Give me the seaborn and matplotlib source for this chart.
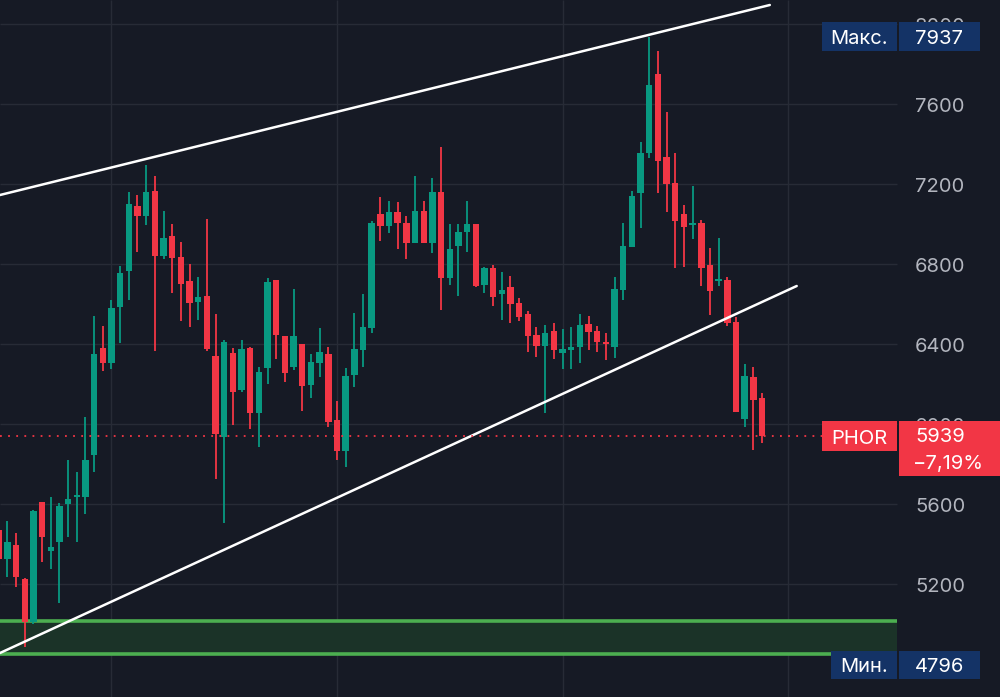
import numpy as np
import pandas as pd
import matplotlib
matplotlib.use("Agg")
import matplotlib.pyplot as plt
import matplotlib.transforms as mtransforms
from matplotlib.patches import Rectangle
import seaborn as sns

# ---------------- data ----------------
open_ = [5470, 5325, 5395, 5225, 5010, 5610, 5365, 5410, 5600, 5635,
         5635, 5845, 6380, 6305, 6585, 6765, 7090, 7040, 7165, 6840,
         6940, 6835, 6715, 6610, 6640, 6340, 5935, 6355, 6170, 6380,
         6055, 6280, 6720, 6440, 6285, 6400, 6195, 6305, 6350, 6020,
         5865, 6245, 6370, 6480, 7050, 6990, 7060, 7005, 6905, 7065,
         6905, 7160, 6730, 6890, 6960, 7000, 6695, 6780, 6650, 6685,
         6605, 6550, 6445, 6390, 6465, 6355, 6370, 6385, 6500, 6465,
         6410, 6385, 6670, 6885, 7155, 7355, 7750, 7335, 7205, 7050,
         6995, 7005, 6795, 6715, 6720, 6510, 6025, 6235, 6130]
close = [5325, 5410, 5235, 5010, 5565, 5435, 5385, 5590, 5625, 5645,
         5820, 6350, 6305, 6580, 6755, 7100, 7040, 7160, 6840, 6930,
         6830, 6700, 6605, 6635, 6375, 5950, 6410, 6160, 6375, 6055,
         6260, 6710, 6445, 6255, 6440, 6190, 6310, 6360, 6010, 5865,
         6240, 6375, 6485, 7005, 6990, 7060, 7005, 6905, 7065, 6905,
         7160, 6730, 6875, 6960, 7000, 6690, 6780, 6635, 6670, 6600,
         6535, 6440, 6390, 6455, 6370, 6375, 6385, 6495, 6460, 6410,
         6400, 6675, 6890, 7140, 7355, 7695, 7315, 7200, 7015, 6985,
         7005, 6780, 6665, 6725, 6505, 6060, 6240, 6120, 5939]
high = [5510, 5515, 5455, 5230, 5570, 5610, 5635, 5605, 5820, 5760,
        6035, 6540, 6490, 6620, 6790, 7160, 7145, 7295, 7240, 7065,
        7000, 6910, 6800, 6735, 7025, 6550, 6420, 6380, 6420, 6385,
        6285, 6730, 6720, 6440, 6675, 6400, 6350, 6480, 6385, 6115,
        6280, 6555, 6650, 7015, 7135, 7115, 7110, 7040, 7240, 7115,
        7230, 7385, 7000, 7000, 7115, 7000, 6785, 6795, 6760, 6740,
        6630, 6565, 6485, 6495, 6505, 6475, 6485, 6550, 6540, 6490,
        6455, 6735, 7005, 7165, 7410, 7937, 7865, 7560, 7355, 7095,
        7190, 7020, 6880, 6930, 6735, 6535, 6300, 6285, 6155]
low = [5295, 5235, 5185, 4885, 5000, 5310, 5275, 5105, 5435, 5410,
       5550, 5760, 6265, 6275, 6405, 6620, 6860, 6995, 6365, 6825,
       6655, 6515, 6485, 6520, 6365, 5725, 5505, 5995, 6160, 5975,
       5885, 6200, 6325, 6210, 6270, 6065, 6130, 6235, 5985, 5820,
       5785, 6185, 6285, 6455, 6915, 6955, 6875, 6825, 6905, 6905,
       6855, 6570, 6695, 6640, 6860, 6685, 6655, 6590, 6520, 6505,
       6515, 6360, 6335, 6055, 6325, 6275, 6275, 6305, 6370, 6360,
       6320, 6330, 6620, 6885, 6980, 7330, 7155, 7060, 6780, 6785,
       6925, 6690, 6545, 6690, 6490, 6060, 5985, 5870, 5905]

price_ticks = [5200, 5600, 6000, 6400, 6800, 7200, 7600, 8000]
time_grid = [13, 39, 65, 91]

upper_x = [0.15, 88.9]
upper_y = [7145, 8095]
lower_x = [0.15, 92.0]
lower_y = [4855, 6690]

zone_low, zone_high = 4850, 5015

ticker = "PHOR"
last_price = 5939
change_text = "\u22127,19%"
max_price = 7937
min_price = 4796
max_label = "Макс."
min_label = "Мин."

# ---------------- styling ----------------
BG = "#161a25"
GRID = "#272b36"
UP = "#089981"
DOWN = "#f23645"
NAVY = "#143366"
AXIS_TXT = "#b2b5be"
FS = 14.5
TXT_SHIFT = -13  # data units: glyph centering correction

sns.set_theme(style="dark", rc={"axes.facecolor": BG, "figure.facecolor": BG,
                                "axes.edgecolor": BG})
plt.rcParams["font.family"] = ["Inter", "DejaVu Sans"]

df = pd.DataFrame({"o": open_, "h": high, "l": low, "c": close})
df["i"] = np.arange(len(df))
df["up"] = df["c"] >= df["o"]
df["color"] = np.where(df["up"], UP, DOWN)

fig = plt.figure(figsize=(10, 6.97), dpi=100)
ax = fig.add_axes([0, 0, 1, 1])
ax.set_facecolor(BG)

x_left = 0.15
x_right = x_left + 1000 / 8.674
plot_right = x_left + 897 / 8.674
ax.set_xlim(x_left, x_right)
ax.set_ylim(4635, 8120)
ax.set_xticks([])
ax.set_yticks([])
for s in ax.spines.values():
    s.set_visible(False)

# grid
ax.hlines(price_ticks, x_left, plot_right, color=GRID, lw=1.0, zorder=0)
ax.vlines(time_grid, 4635, 8120, color=GRID, lw=1.0, zorder=0)

# support zone
ax.fill_between([x_left, plot_right], zone_low, zone_high, color="#1b3328", zorder=1, lw=0)
ax.hlines([zone_low, zone_high], x_left, plot_right, color="#4caf50", lw=2.6, zorder=2)

# candles
ax.vlines(df["i"], df["l"], df["h"], colors=df["color"], lw=1.3, zorder=3)
body_bottom = np.minimum(df["o"], df["c"])
body_h = np.maximum(np.abs(df["c"] - df["o"]), 12)
ax.bar(df["i"], body_h, bottom=body_bottom, width=0.74, color=df["color"],
       lw=0, zorder=4)

# trend lines
sns.lineplot(x=upper_x, y=upper_y, ax=ax, color="white", lw=1.8, zorder=5)
sns.lineplot(x=lower_x, y=lower_y, ax=ax, color="white", lw=1.8, zorder=5)

# last price dotted line
price_line_end = x_left + 822 / 8.674
ax.hlines(last_price, x_left, price_line_end, color=DOWN, lw=1.3,
          linestyles=(0, (1, 3.5)), zorder=5)

# price scale labels
tr = mtransforms.blended_transform_factory(ax.transAxes, ax.transData)
for t in price_ticks:
    ax.text(0.915, t + TXT_SHIFT, f"{t}", transform=tr, ha="left", va="center",
            color=AXIS_TXT, fontsize=FS, zorder=6)

def box(x0, x1, yc, hpx, color, z=7):
    h = hpx * 5.0
    ax.add_patch(Rectangle((x0, yc - h / 2), x1 - x0, h, transform=tr,
                           facecolor=color, edgecolor="none", zorder=z))

# max label
box(0.822, 0.897, max_price, 29, NAVY)
box(0.899, 0.980, max_price, 29, NAVY)
ax.text(0.8595, max_price + TXT_SHIFT, max_label, transform=tr, ha="center", va="center",
        color="white", fontsize=FS, zorder=8)
ax.text(0.915, max_price + TXT_SHIFT, f"{max_price}", transform=tr, ha="left", va="center",
        color="white", fontsize=FS, zorder=8)

# min label
box(0.831, 0.897, min_price, 28, NAVY)
box(0.899, 0.980, min_price, 28, NAVY)
ax.text(0.864, min_price + TXT_SHIFT, min_label, transform=tr, ha="center", va="center",
        color="white", fontsize=FS, zorder=8)
ax.text(0.915, min_price + TXT_SHIFT, f"{min_price}", transform=tr, ha="left", va="center",
        color="white", fontsize=FS, zorder=8)

# ticker / last price label
box(0.822, 0.897, last_price, 30, DOWN)
h30 = 30 * 5.0
ax.add_patch(Rectangle((0.899, last_price - 55 * 5.0 + h30 / 2), 0.101, 55 * 5.0,
                       transform=tr, facecolor=DOWN, edgecolor="none", zorder=7))
ax.text(0.8595, last_price + TXT_SHIFT, ticker, transform=tr, ha="center", va="center",
        color="white", fontsize=FS, zorder=8)
ax.text(0.915, last_price + 10 + TXT_SHIFT, f"{last_price}", transform=tr, ha="left",
        va="center", color="white", fontsize=FS, zorder=8)
ax.text(0.913, last_price - 125 + TXT_SHIFT, change_text, transform=tr, ha="left",
        va="center", color="white", fontsize=FS, zorder=8)

fig.savefig("out.png", dpi=100, facecolor=BG)
